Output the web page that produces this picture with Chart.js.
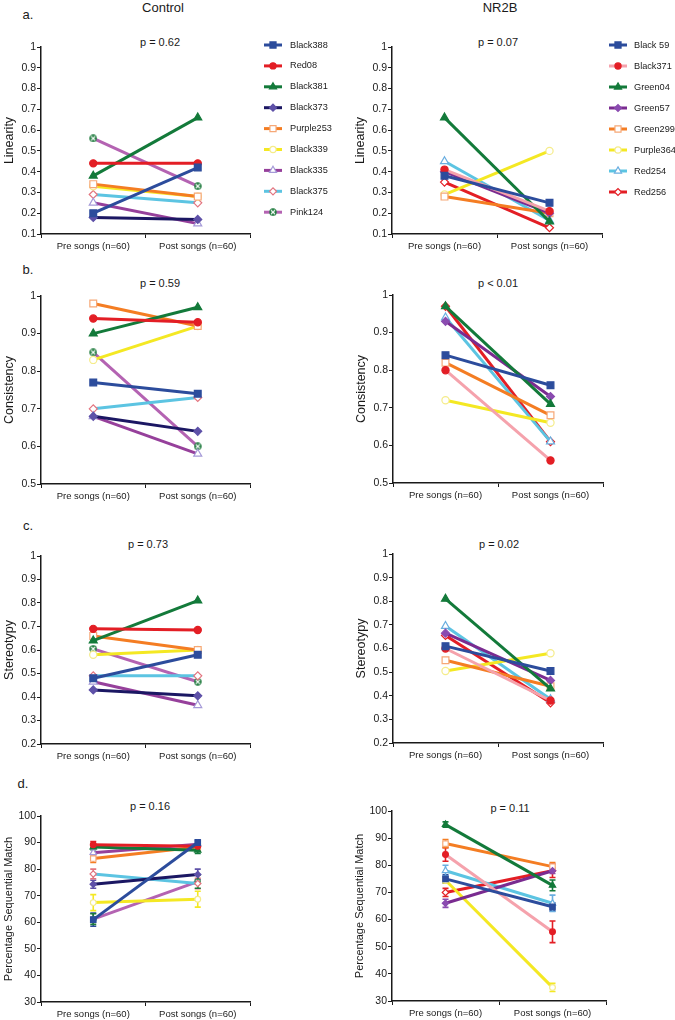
<!DOCTYPE html>
<html><head><meta charset="utf-8">
<script src="https://cdn.jsdelivr.net/npm/chart.js@4.4.1/dist/chart.umd.min.js"></script>
<style>
html,body{margin:0;padding:0;background:#fff;overflow:hidden;}
body{width:675px;height:1020px;position:relative;font-family:"Liberation Sans",Arial,sans-serif;color:#1a1a1a;}
canvas{position:absolute;}
.t{position:absolute;white-space:nowrap;transform:translate(-50%,-50%);line-height:1;}
</style></head><body>
<div class="t" style="left:163px;top:7px;font-size:13px">Control</div>
<div class="t" style="left:500px;top:7px;font-size:13px">NR2B</div>
<div class="t" style="left:28px;top:14px;font-size:13px">a.</div>
<div class="t" style="left:28px;top:269px;font-size:13px">b.</div>
<div class="t" style="left:28px;top:525px;font-size:13px">c.</div>
<div class="t" style="left:23px;top:783px;font-size:13px">d.</div>
<div class="t" style="left:160px;top:42px;font-size:11px">p = 0.62</div>
<div class="t" style="left:498px;top:42px;font-size:11px">p = 0.07</div>
<div class="t" style="left:160px;top:283px;font-size:11px">p = 0.59</div>
<div class="t" style="left:498px;top:283px;font-size:11px">p &lt; 0.01</div>
<div class="t" style="left:148px;top:544px;font-size:11px">p = 0.73</div>
<div class="t" style="left:499px;top:544px;font-size:11px">p = 0.02</div>
<div class="t" style="left:150px;top:806px;font-size:11px">p = 0.16</div>
<div class="t" style="left:510px;top:808px;font-size:11px">p = 0.11</div>
<script>
// ---------- DATA ----------
const categories = ['Pre songs (n=60)', 'Post songs (n=60)'];
const controlBirds = ['Black388','Red08','Black381','Black373','Purple253','Black339','Black335','Black375','Pink124'];
const nr2bBirds = ['Black 59','Black371','Green04','Green57','Green299','Purple364','Red254','Red256'];

// Linearity
const ctrlLinearityPre  = [0.20,0.44,0.38,0.18,0.34,0.33,0.25,0.29,0.56];
const ctrlLinearityPost = [0.42,0.44,0.66,0.17,0.28,0.28,0.15,0.25,0.33];
const nr2bLinearityPre  = [0.38,0.41,0.66,0.40,0.28,0.29,0.45,0.35];
const nr2bLinearityPost = [0.25,0.21,0.16,0.20,0.20,0.50,0.165,0.13];

// Consistency
const ctrlConsistencyPre  = [0.77,0.94,0.90,0.68,0.98,0.83,0.68,0.70,0.85];
const ctrlConsistencyPost = [0.74,0.93,0.97,0.64,0.92,0.92,0.58,0.73,0.60];
const nr2bConsistencyPre  = [0.84,0.80,0.97,0.93,0.82,0.72,0.94,0.97];
const nr2bConsistencyPost = [0.76,0.56,0.71,0.73,0.68,0.66,0.61,0.61];

// Stereotypy
const ctrlStereotypyPre  = [0.48,0.69,0.64,0.43,0.66,0.58,0.465,0.49,0.605];
const ctrlStereotypyPost = [0.58,0.685,0.81,0.405,0.60,0.60,0.365,0.49,0.465];
const nr2bStereotypyPre  = [0.61,0.60,0.81,0.665,0.55,0.505,0.695,0.655];
const nr2bStereotypyPost = [0.505,0.38,0.43,0.465,0.44,0.58,0.385,0.37];

// Percentage sequential match (mean and error)
const ctrlMatchPre  = [61,89.2,88.3,74.3,84,67.4,86.2,78.2,61.2];
const ctrlMatchPost = [90,88.6,87.1,78,88.3,68.7,89.4,74.6,75.3];
const ctrlMatchErrPre  = [2.5,1.2,1,1.5,1.5,3,1.2,1.8,2];
const ctrlMatchErrPost = [1,1,1.2,2,1,3,1,2,2.5];
const nr2bMatchPre  = [75,84,95,66,88,74.5,78,70];
const nr2bMatchPost = [64.7,55.5,72.6,78,79.5,35,66,78];
const nr2bMatchErrPre  = [1.5,2.5,1,1.5,1.5,1,2,1.5];
const nr2bMatchErrPost = [1.5,4,2,1,1.5,1.5,3,2.5];

// ---------- STYLES ----------
const FAM = '"Liberation Sans", Arial, sans-serif';
Chart.defaults.font.family = FAM;
Chart.defaults.color = '#1a1a1a';

function xCircle(size){
  const c = document.createElement('canvas'); c.width = size; c.height = size;
  const g = c.getContext('2d'); const r = size/2;
  g.fillStyle = '#1d7a3c'; g.beginPath(); g.arc(r,r,r-0.3,0,Math.PI*2); g.fill();
  g.strokeStyle = '#ffffff'; g.lineWidth = 1.1; const k = r*0.5;
  g.beginPath(); g.moveTo(r-k,r-k); g.lineTo(r+k,r+k); g.moveTo(r+k,r-k); g.lineTo(r-k,r+k); g.stroke();
  return c;
}
const xcBig = xCircle(8), xcSmall = xCircle(7);

const ctrlStyles = [
  {line:'#2c4c9c', mark:'#2c4c9c', fill:'#2c4c9c', shape:'rect'},
  {line:'#e31e25', mark:'#e31e25', fill:'#e31e25', shape:'circle'},
  {line:'#137a3a', mark:'#137a3a', fill:'#137a3a', shape:'triangle'},
  {line:'#1b1763', mark:'#5e51a8', fill:'#5e51a8', shape:'rectRot'},
  {line:'#f47d23', mark:'#f6a877', fill:'#ffffff', shape:'rect'},
  {line:'#f4e823', mark:'#f5ec8a', fill:'#ffffff', shape:'circle'},
  {line:'#96409b', mark:'#a59ad8', fill:'#ffffff', shape:'triangle'},
  {line:'#5cc4e2', mark:'#e3747f', fill:'#ffffff', shape:'rectRot'},
  {line:'#b463b2', mark:'#1d7a3c', fill:'#1d7a3c', shape:'xcircle'}
];
const nr2bStyles = [
  {line:'#2c4c9c', mark:'#2c4c9c', fill:'#2c4c9c', shape:'rect'},
  {line:'#f5a2ac', mark:'#e31e25', fill:'#e31e25', shape:'circle'},
  {line:'#137a3a', mark:'#137a3a', fill:'#137a3a', shape:'triangle'},
  {line:'#7a2b90', mark:'#8a4bb0', fill:'#8a4bb0', shape:'rectRot'},
  {line:'#f47d23', mark:'#f6a877', fill:'#ffffff', shape:'rect'},
  {line:'#f4e823', mark:'#f5ec8a', fill:'#ffffff', shape:'circle'},
  {line:'#5cc4e2', mark:'#6aaee0', fill:'#ffffff', shape:'triangle'},
  {line:'#e31e25', mark:'#e31e25', fill:'#ffffff', shape:'rectRot'}
];

function shapeFor(st, small){
  if (st.shape === 'xcircle') return small ? xcSmall : xcBig;
  return st.shape;
}
function radiusFor(st, small){
  const k = small ? 0.8 : 1;
  if (st.shape === 'circle') return 3.6 * k;
  if (st.shape === 'rect') return 4.8 * k;
  if (st.shape === 'rectRot') return 4.0 * k;
  if (st.shape === 'triangle') return 4.6 * k;
  return 4 * k;
}

// ---------- PLUGINS ----------
const sideLegend = {
  id: 'sideLegend',
  afterDraw(chart, args, opts) {
    if (!opts || !opts.show) return;
    const ctx = chart.ctx;
    chart.data.datasets.forEach((ds, i) => {
      const y = opts.y0 + i * opts.dy;
      ctx.save();
      ctx.strokeStyle = ds.borderColor; ctx.lineWidth = 3;
      ctx.beginPath(); ctx.moveTo(opts.x0, y); ctx.lineTo(opts.x1, y); ctx.stroke();
      ctx.fillStyle = ds.pointBackgroundColor; ctx.strokeStyle = ds.pointBorderColor; ctx.lineWidth = 1.2;
      Chart.helpers.drawPoint(ctx, {pointStyle: ds.legendStyle, rotation: 0, radius: ds.legendRadius, borderWidth: 1.2}, (opts.x0 + opts.x1) / 2, y);
      ctx.fillStyle = '#1a1a1a'; ctx.font = '9.2px ' + FAM; ctx.textBaseline = 'middle'; ctx.textAlign = 'left';
      ctx.fillText(ds.label, opts.tx, y);
      ctx.restore();
    });
  }
};
const errorBars = {
  id: 'errorBars',
  beforeDatasetsDraw(chart) {
    const ctx = chart.ctx, ys = chart.scales.y;
    chart.data.datasets.forEach((ds, i) => {
      if (!ds.errors) return;
      const meta = chart.getDatasetMeta(i);
      meta.data.forEach((pt, j) => {
        const v = ds.data[j], e = ds.errors[j];
        const y1 = ys.getPixelForValue(v + e), y2 = ys.getPixelForValue(v - e);
        ctx.save();
        ctx.strokeStyle = ds.errColor || ds.pointBorderColor;
        ctx.lineWidth = 1.6;
        ctx.beginPath();
        ctx.moveTo(pt.x, y1); ctx.lineTo(pt.x, y2);
        ctx.moveTo(pt.x - 3, y1); ctx.lineTo(pt.x + 3, y1);
        ctx.moveTo(pt.x - 3, y2); ctx.lineTo(pt.x + 3, y2);
        ctx.stroke();
        ctx.restore();
      });
    });
  }
};

// ---------- PANELS ----------
function panel(p) {
  const cv = document.createElement('canvas');
  cv.width = p.w; cv.height = p.h;
  cv.style.left = p.left + 'px'; cv.style.top = p.top + 'px';
  document.body.appendChild(cv);
  const small = !!p.errPre;
  const datasets = p.names.map((name, i) => {
    const st = p.styles[i];
    return {
      label: name,
      data: [p.pre[i], p.post[i]],
      errors: p.errPre ? [p.errPre[i], p.errPost[i]] : null,
      errColor: st.mark === '#f5ec8a' ? '#f4e823' : (st.mark === '#f6a877' ? '#f47d23' : null),
      borderColor: st.line, borderWidth: 3, tension: 0, fill: false, clip: false,
      pointStyle: shapeFor(st, small), pointRadius: radiusFor(st, small),
      pointBackgroundColor: st.fill, pointBorderColor: st.mark, pointBorderWidth: 1.2,
      legendStyle: shapeFor(st, false), legendRadius: radiusFor(st, false) - 0.5
    };
  });
  new Chart(cv, {
    type: 'line',
    data: { labels: categories, datasets },
    options: {
      responsive: false, animation: false, devicePixelRatio: 1,
      layout: { padding: { left: 0, top: p.padTop, right: p.padRight, bottom: 0 } },
      plugins: {
        legend: { display: false }, tooltip: { enabled: false },
        sideLegend: p.legend || { show: false }
      },
      scales: {
        x: {
          type: 'category', offset: true,
          grid: { display: true, drawOnChartArea: false, drawTicks: true, tickLength: 4, color: '#1a1a1a', lineWidth: 1, offset: true },
          border: { display: true, color: '#1a1a1a', width: 1.5 },
          ticks: { color: '#1a1a1a', font: { size: 9.5 }, padding: 3, maxRotation: 0, autoSkip: false },
          afterFit: s => { s.height = 22; }
        },
        y: {
          min: p.min, max: p.max,
          grid: { display: true, drawOnChartArea: false, drawTicks: true, tickLength: 4, color: '#1a1a1a', lineWidth: 1 },
          border: { display: true, color: '#1a1a1a', width: 1.5 },
          ticks: { stepSize: p.step, color: '#1a1a1a', font: { size: 10.5 }, padding: 1,
                   callback: v => String(Math.round(v * 100) / 100) },
          title: { display: true, text: p.title, color: '#1a1a1a', font: { size: p.titleSize || 12.5 }, padding: { top: 2, bottom: 0 } },
          afterFit: s => { s.width = 41; }
        }
      }
    },
    plugins: [sideLegend, errorBars]
  });
}

// Row a
panel({left:0, top:30, w:345, h:226, padTop:17, padRight:95, min:0.1, max:1, step:0.1, title:'Linearity',
  names:controlBirds, styles:ctrlStyles, pre:ctrlLinearityPre, post:ctrlLinearityPost,
  legend:{show:true, x0:264, x1:282, tx:290, y0:15, dy:20.9}});
panel({left:351, top:30, w:324, h:226, padTop:17, padRight:73, min:0.1, max:1, step:0.1, title:'Linearity',
  names:nr2bBirds, styles:nr2bStyles, pre:nr2bLinearityPre, post:nr2bLinearityPost,
  legend:{show:true, x0:258, x1:276, tx:283, y0:15, dy:21}});
// Row b
panel({left:0, top:279, w:260, h:227, padTop:17, padRight:10, min:0.5, max:1, step:0.1, title:'Consistency',
  names:controlBirds, styles:ctrlStyles, pre:ctrlConsistencyPre, post:ctrlConsistencyPost});
panel({left:352, top:278, w:323, h:227, padTop:17, padRight:72, min:0.5, max:1, step:0.1, title:'Consistency',
  names:nr2bBirds, styles:nr2bStyles, pre:nr2bConsistencyPre, post:nr2bConsistencyPost});
// Row c
panel({left:0, top:539, w:260, h:227, padTop:17, padRight:10, min:0.2, max:1, step:0.1, title:'Stereotypy',
  names:controlBirds, styles:ctrlStyles, pre:ctrlStereotypyPre, post:ctrlStereotypyPost});
panel({left:352, top:537, w:323, h:228, padTop:17, padRight:72, min:0.2, max:1, step:0.1, title:'Stereotypy',
  names:nr2bBirds, styles:nr2bStyles, pre:nr2bStereotypyPre, post:nr2bStereotypyPost});
// Row d
panel({left:0, top:799, w:260, h:225, padTop:17, padRight:10, min:30, max:100, step:10, title:'Percentage Sequential Match', titleSize:11,
  names:controlBirds, styles:ctrlStyles, pre:ctrlMatchPre, post:ctrlMatchPost, errPre:ctrlMatchErrPre, errPost:ctrlMatchErrPost});
panel({left:351, top:794, w:324, h:229, padTop:17, padRight:69, min:30, max:100, step:10, title:'Percentage Sequential Match', titleSize:11,
  names:nr2bBirds, styles:nr2bStyles, pre:nr2bMatchPre, post:nr2bMatchPost, errPre:nr2bMatchErrPre, errPost:nr2bMatchErrPost});
</script>
</body></html>
